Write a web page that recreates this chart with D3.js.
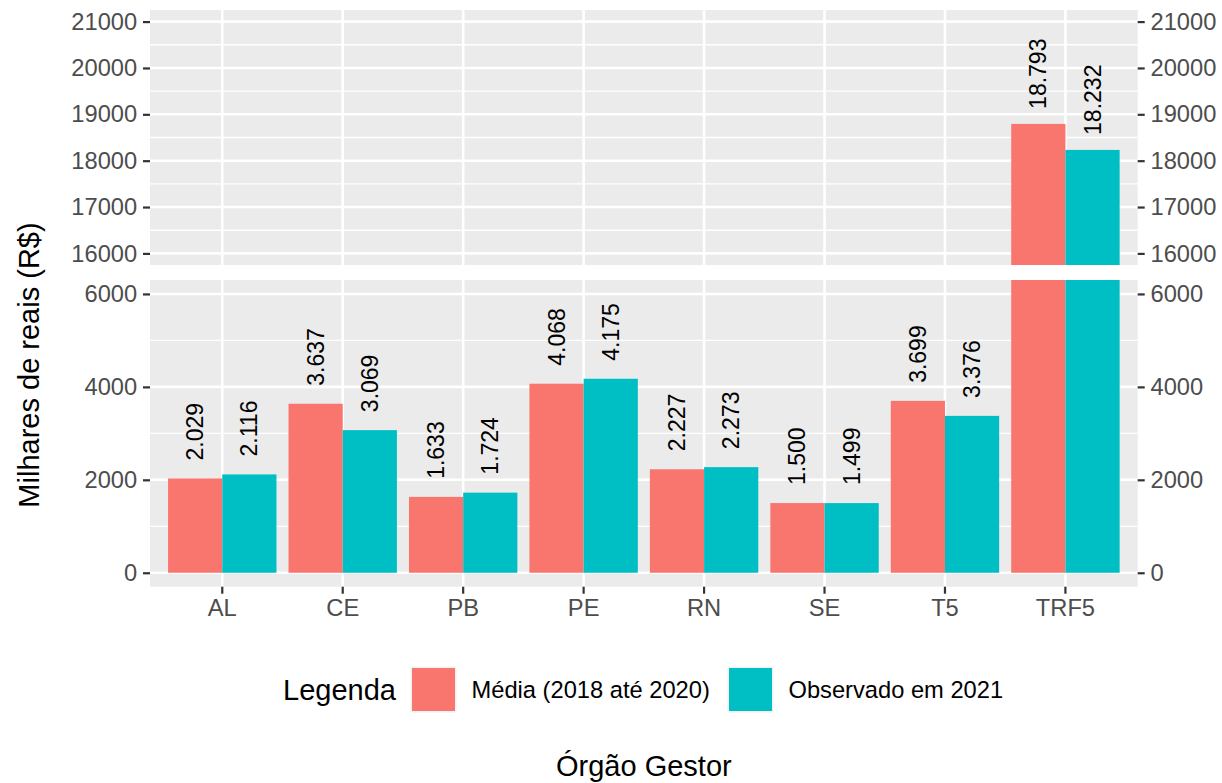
<!DOCTYPE html>
<html lang="pt">

<head>
    <meta charset="utf-8">
    <title>Milhares de reais por órgão gestor</title>
    <script src="https://cdnjs.cloudflare.com/ajax/libs/d3/7.8.5/d3.min.js"></script>
</head>
<style>
    body { margin: 0; background: #fff; }
    text { font-family: "Liberation Sans", Arial, Helvetica, sans-serif; }
</style>

<body>
    <script>

     // data
     var categories = ["AL", "CE", "PB", "PE", "RN", "SE", "T5", "TRF5"];
     var seriesNames = ["Média (2018 até 2020)", "Observado em 2021"];
     var media = [2029, 3637, 1633, 4068, 2227, 1500, 3699, 18793];
     var observado = [2116, 3069, 1724, 4175, 2273, 1499, 3376, 18232];
     var upperTicks = [16000, 17000, 18000, 19000, 20000, 21000];
     var upperMinor = [16500, 17500, 18500, 19500, 20500];
     var lowerTicks = [0, 2000, 4000, 6000];
     var lowerMinor = [1000, 3000, 5000];
     var colors = ["#F8766D", "#00BFC4"];

     var W = 1222, H = 783;
     var left = 150, right = 1137.7;
     var axisFont = 23.7;

     var svg = d3.select("body").append("svg")
                 .attr("width", W)
                 .attr("height", H);

     var x = d3.scaleBand().domain(categories).range([left, right])
               .paddingInner(0).paddingOuter(0.1);
     var xs = d3.scaleBand().domain(seriesNames)
                .range([x.bandwidth() * 0.05, x.bandwidth() * 0.95]);

     // two panels: the broken axis
     var panels = [
         { name: "upper", top: 10, bottom: 265, domain: [15750, 21250], ticks: upperTicks, minor: upperMinor, off: 15 },
         { name: "lower", top: 280, bottom: 586.7, domain: [-300, 6300], ticks: lowerTicks, minor: lowerMinor, off: 18 }
     ];
     panels.forEach(function(p) {
         p.y = d3.scaleLinear().domain(p.domain).range([p.bottom, p.top]);
     });

     var fmt = d3.formatLocale({ decimal: ",", thousands: ".", grouping: [3], currency: ["R$", ""] }).format(",d");

     var rows = [];
     categories.forEach(function(c, i) {
         rows.push({ cat: c, s: seriesNames[0], v: media[i], k: 0 });
         rows.push({ cat: c, s: seriesNames[1], v: observado[i], k: 1 });
     });

     panels.forEach(function(p) {
         var g = svg.append("g");
         var clipId = "clip-" + p.name;
         svg.append("clipPath").attr("id", clipId)
            .append("rect")
            .attr("x", left).attr("y", p.top)
            .attr("width", right - left).attr("height", p.bottom - p.top);

         g.append("rect")
          .attr("x", left).attr("y", p.top)
          .attr("width", right - left).attr("height", p.bottom - p.top)
          .attr("fill", "#EBEBEB");

         g.selectAll(".minor").data(p.minor).enter().append("line")
          .attr("x1", left).attr("x2", right)
          .attr("y1", function(d) { return p.y(d); })
          .attr("y2", function(d) { return p.y(d); })
          .attr("stroke", "#fff").attr("stroke-width", 1.3);

         g.selectAll(".major").data(p.ticks).enter().append("line")
          .attr("x1", left).attr("x2", right)
          .attr("y1", function(d) { return p.y(d); })
          .attr("y2", function(d) { return p.y(d); })
          .attr("stroke", "#fff").attr("stroke-width", 2.6);

         g.selectAll(".vgrid").data(categories).enter().append("line")
          .attr("x1", function(d) { return x(d) + x.bandwidth() / 2; })
          .attr("x2", function(d) { return x(d) + x.bandwidth() / 2; })
          .attr("y1", p.top).attr("y2", p.bottom)
          .attr("stroke", "#fff").attr("stroke-width", 2.6);

         var base = Math.max(0, p.domain[0]);
         g.append("g").attr("clip-path", "url(#" + clipId + ")")
          .selectAll("rect").data(rows.filter(function(d) { return d.v > p.domain[0]; }))
          .enter().append("rect")
          .attr("x", function(d) { return x(d.cat) + xs(d.s); })
          .attr("width", xs.bandwidth())
          .attr("y", function(d) { return p.y(Math.min(d.v, p.domain[1])); })
          .attr("height", function(d) { return p.y(base) - p.y(Math.min(d.v, p.domain[1])); })
          .attr("fill", function(d) { return colors[d.k]; });

         g.selectAll(".lab").data(rows.filter(function(d) { return d.v > p.domain[0] && d.v < p.domain[1]; }))
          .enter().append("text")
          .attr("transform", function(d) {
              return "translate(" + (x(d.cat) + xs(d.s) + xs.bandwidth() / 2) + "," + (p.y(d.v) - p.off) + ") rotate(-90)";
          })
          .attr("dy", "0.35em")
          .attr("font-size", 23)
          .attr("fill", "#000")
          .text(function(d) { return fmt(d.v); });

         // axes on both sides
         [["left", d3.axisLeft(p.y), left], ["right", d3.axisRight(p.y), right]].forEach(function(a) {
             var ax = svg.append("g").attr("transform", "translate(" + a[2] + ",0)")
                         .call(a[1].tickValues(p.ticks).tickSize(7).tickPadding(5.8).tickFormat(d3.format("d")));
             ax.select(".domain").remove();
             ax.selectAll("line").attr("stroke", "#333").attr("stroke-width", 2.2);
             ax.selectAll("text").attr("font-size", axisFont).attr("fill", "#4D4D4D")
               .attr("font-family", "Liberation Sans, Arial, sans-serif");
         });
     });

     var xa = svg.append("g").attr("transform", "translate(0," + panels[1].bottom + ")")
                 .call(d3.axisBottom(x).tickSize(7).tickPadding(5));
     xa.select(".domain").remove();
     xa.selectAll("line").attr("stroke", "#333").attr("stroke-width", 2.2);
     xa.selectAll("text").attr("font-size", axisFont).attr("fill", "#4D4D4D")
       .attr("font-family", "Liberation Sans, Arial, sans-serif");

     // axis titles
     svg.append("text")
        .attr("transform", "translate(39,365) rotate(-90)")
        .attr("text-anchor", "middle")
        .attr("font-size", 29)
        .text("Milhares de reais (R$)");

     svg.append("text")
        .attr("x", (left + right) / 2).attr("y", 776)
        .attr("text-anchor", "middle")
        .attr("font-size", 29)
        .text("Órgão Gestor");

     // legend
     var leg = svg.append("g");
     leg.append("text").attr("x", 283).attr("y", 700).attr("font-size", 29).text("Legenda");
     var keyX = [412, 729];
     seriesNames.forEach(function(s, i) {
         leg.append("rect").attr("x", keyX[i] - 1.5).attr("y", 666.5)
            .attr("width", 46).attr("height", 46).attr("fill", "#F2F2F2");
         leg.append("rect").attr("x", keyX[i]).attr("y", 668)
            .attr("width", 43).attr("height", 43).attr("fill", colors[i]);
         leg.append("text").attr("x", keyX[i] + 59.5).attr("y", 698)
            .attr("font-size", axisFont).text(s);
     });

    </script>
</body>

</html>
